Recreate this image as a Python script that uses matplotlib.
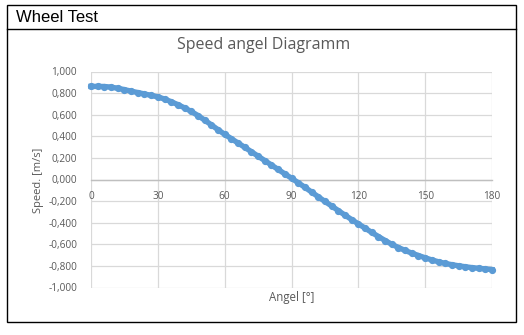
import matplotlib
matplotlib.use("Agg")
import matplotlib.pyplot as plt
from matplotlib.lines import Line2D
from matplotlib.patches import Rectangle

# Messwerte: Winkel in Grad, Geschwindigkeit in m/s
winkel = list(range(0, 181, 3))
speed = [0.862, 0.862, 0.861, 0.855, 0.845, 0.832, 0.818, 0.805, 0.792, 0.779,
         0.765, 0.745, 0.720, 0.693, 0.663, 0.630, 0.592, 0.550, 0.506, 0.461,
         0.418, 0.378, 0.338, 0.298, 0.257, 0.216, 0.175, 0.134, 0.093, 0.052,
         0.012, -0.030, -0.072, -0.116, -0.160, -0.203, -0.245, -0.288, -0.330, -0.371,
         -0.411, -0.450, -0.490, -0.528, -0.565, -0.600, -0.630, -0.657, -0.682, -0.704,
         -0.725, -0.745, -0.762, -0.777, -0.789, -0.799, -0.808, -0.816, -0.822, -0.828,
         -0.834]

x_ticks = [0, 30, 60, 90, 120, 150, 180]
y_ticks = [-1.0, -0.8, -0.6, -0.4, -0.2, 0.0, 0.2, 0.4, 0.6, 0.8, 1.0]

W, H = 524, 335
fig = plt.figure(figsize=(W / 100, H / 100), dpi=100)
fig.patch.set_facecolor("white")

# Rahmen mit Kopfzeile
fig.add_artist(Rectangle((7 / W, 1 - 322 / H), 509 / W, 317 / H, transform=fig.transFigure,
                         fill=False, edgecolor="black", linewidth=1.0))
fig.add_artist(Line2D([7 / W, 516 / W], [1 - 29 / H, 1 - 29 / H], transform=fig.transFigure,
                      color="black", linewidth=1.0))
fig.text(16 / W, 1 - 17.5 / H, "Wheel Test", fontsize=12, family="Liberation Sans",
         va="center", ha="left", color="black")

ax = fig.add_axes([91 / W, 1 - 287.5 / H, 401 / W, 216 / H])
ax.set_xlim(0, 180)
ax.set_ylim(-1, 1)

grau = "#d9d9d9"
text_grau = "#595959"
for s in ["top", "left", "right"]:
    ax.spines[s].set_visible(False)
ax.spines["bottom"].set_position(("data", 0))
ax.spines["bottom"].set_color("#bfbfbf")
ax.spines["bottom"].set_linewidth(1.0)

ax.set_xticks(x_ticks)
ax.set_yticks(y_ticks)
ax.set_yticklabels([f"{v:.3f}".replace(".", ",") for v in y_ticks])
ax.tick_params(length=0, labelsize=7.2, labelcolor=text_grau)
ax.tick_params(axis="x", pad=8)
ax.tick_params(axis="y", pad=10)
for lbl in ax.get_xticklabels() + ax.get_yticklabels():
    lbl.set_family("Open Sans")
ax.grid(True, color=grau, linewidth=0.9)
ax.set_axisbelow(True)

ax.plot(winkel, speed, color="#5b9bd5", linewidth=3.9, marker="o", markersize=4.2,
        clip_on=False, zorder=3)

fig.text(264 / W, 1 - 45 / H, "Speed angel Diagramm", fontsize=11.5, family="Open Sans",
         color=text_grau, ha="center", va="center")
fig.text(292 / W, 1 - 297 / H, "Angel [°]", fontsize=8.3, family="Open Sans",
         color=text_grau, ha="center", va="center")
fig.text(38 / W, 1 - 180 / H, "Speed. [m/s]", fontsize=8, family="Open Sans",
         color=text_grau, ha="center", va="center", rotation=90)

fig.savefig("out.png", dpi=100, facecolor="white")
